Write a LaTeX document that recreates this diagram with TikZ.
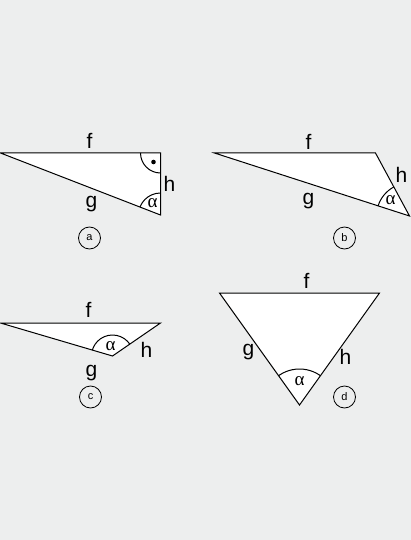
\documentclass[tikz,border=0pt]{standalone}
\usepackage{fontspec}
\setmainfont{Liberation Sans}
\newfontfamily\greekfont{Liberation Serif}
\definecolor{paper}{HTML}{EDEEEE}
\begin{document}
\begin{tikzpicture}[x=1pt,y=-1pt,line width=1pt]
\tikzset{
  side/.style={font=\fontsize{21}{21}\selectfont},
  ang/.style={font=\fontsize{19}{19}\greekfont},
  tag/.style={draw,circle,line width=0.8pt,minimum size=22pt,inner sep=0pt,font=\fontsize{11}{11}\selectfont},
  tri/.style={draw,fill=white,line join=miter}
}
\fill[paper] (0,0) rectangle (410,540);

% triangle a
\coordinate (a1) at (0,153);
\coordinate (a2) at (160,153);
\coordinate (a3) at (160,215);
\draw[tri] (a1)--(a2)--(a3)--cycle;
\begin{scope}
\clip (a1)--(a2)--(a3)--cycle;
\draw (a2) circle (20);
\draw (a3) circle (22);
\end{scope}
\fill (153,162) circle (2.3);
\node[side] (fa) at(89,141){f};
\node[side] (ha) at(169,184){h};
\node[side] (ga) at(91,204){g};
\node[ang] (alpa) at(152,203){α};
\node[tag] (la) at(89,238){a};

% triangle b
\coordinate (b1) at (214,153);
\coordinate (b2) at (375,153);
\coordinate (b3) at (409,216);
\draw[tri] (b1)--(b2)--(b3)--cycle;
\begin{scope}
\clip (b1)--(b2)--(b3)--cycle;
\draw (b3) circle (33);
\end{scope}
\node[side] (fb) at(308,142){f};
\node[side] (hb) at(401,175){h};
\node[side] (gb) at(308,201){g};
\node[ang] (alpb) at(390,200){α};
\node[tag] (lb) at(344,238){b};

% triangle c
\coordinate (c1) at (0,323);
\coordinate (c2) at (160,323);
\coordinate (c3) at (112,356);
\draw[tri] (c1)--(c2)--(c3)--cycle;
\begin{scope}
\clip (c1)--(c2)--(c3)--cycle;
\draw (c3) circle (21);
\end{scope}
\node[side] (fc) at(88,310){f};
\node[side] (hc) at(146,350){h};
\node[side] (gc) at(91,373){g};
\node[ang] (alpc) at(110,346){α};
\node[tag] (lc) at(90,397){c};

% triangle d
\coordinate (d1) at (219,293);
\coordinate (d2) at (379,293);
\coordinate (d3) at (299,405);
\draw[tri] (d1)--(d2)--(d3)--cycle;
\begin{scope}
\clip (d1)--(d2)--(d3)--cycle;
\draw (d3) circle (36);
\end{scope}
\node[side] (fd) at(306,281){f};
\node[side] (gd) at(248,352){g};
\node[side] (hd) at(345,357){h};
\node[ang] (alpd) at(299,381){α};
\node[tag] (ld) at(344,397){d};

\end{tikzpicture}
\end{document}
